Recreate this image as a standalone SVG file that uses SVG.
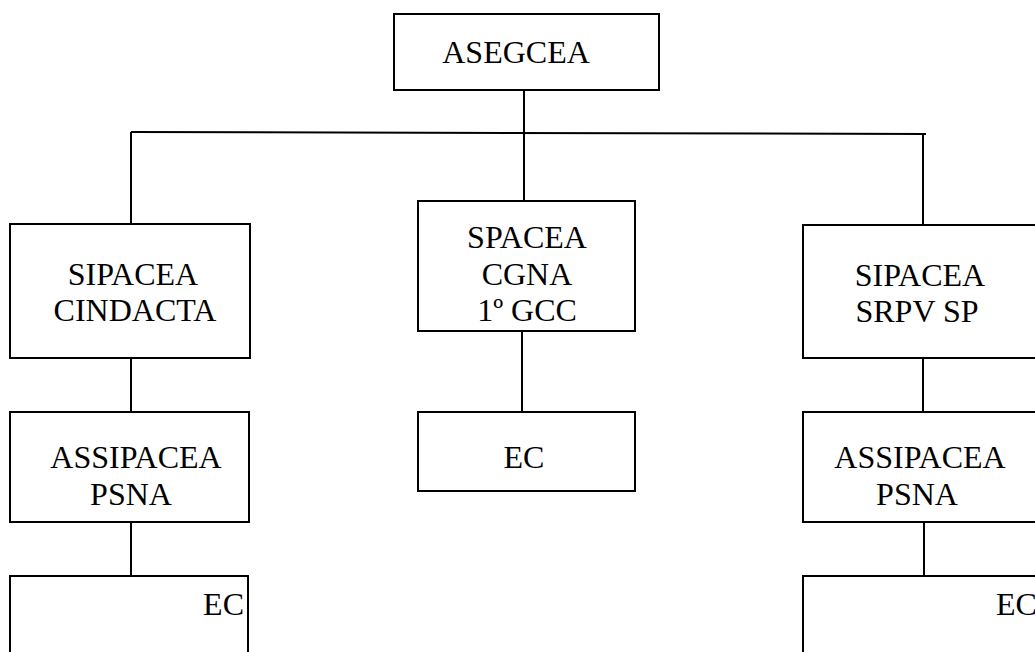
<svg xmlns="http://www.w3.org/2000/svg" width="1035" height="652" viewBox="0 0 1035 652">
<style>
.box{fill:#fff;stroke:#000;stroke-width:2}
.ln{fill:none;stroke:#000;stroke-width:2}
text{font-family:"Liberation Serif","Times New Roman",serif;font-size:32px;fill:#000}
</style>
<rect width="1035" height="652" fill="#fff"/>
<g id="connectors">
<line class="ln" x1="524" y1="90" x2="524" y2="201"/>
<line class="ln" x1="131" y1="132" x2="926" y2="134"/>
<line class="ln" x1="131" y1="132" x2="131" y2="224"/>
<line class="ln" x1="923" y1="134" x2="923" y2="225"/>
<line class="ln" x1="131" y1="358" x2="131" y2="412"/>
<line class="ln" x1="131" y1="522" x2="131" y2="576"/>
<line class="ln" x1="522" y1="331" x2="522" y2="412"/>
<line class="ln" x1="923" y1="358" x2="923" y2="412"/>
<line class="ln" x1="924" y1="522" x2="924" y2="576"/>
</g>
<g id="n-asegcea">
<rect class="box" x="394" y="14" width="265" height="76"/>
<text x="516" y="63" text-anchor="middle">ASEGCEA</text>
</g>
<g id="n-sipacea-cindacta">
<rect class="box" x="10" y="224" width="240" height="134"/>
<text x="133" y="285" text-anchor="middle">SIPACEA</text>
<text x="135" y="321" text-anchor="middle">CINDACTA</text>
</g>
<g id="n-spacea">
<rect class="box" x="418" y="201" width="217" height="130"/>
<text x="527" y="248" text-anchor="middle">SPACEA</text>
<text x="527" y="285" text-anchor="middle">CGNA</text>
<text x="527" y="321" text-anchor="middle">1º GCC</text>
</g>
<g id="n-sipacea-srpv">
<rect class="box" x="803" y="225" width="245" height="133"/>
<text x="920" y="286" text-anchor="middle">SIPACEA</text>
<text x="917" y="322" text-anchor="middle">SRPV SP</text>
</g>
<g id="n-assipacea-left">
<rect class="box" x="10" y="412" width="239" height="110"/>
<text x="136" y="468" text-anchor="middle">ASSIPACEA</text>
<text x="131" y="505" text-anchor="middle">PSNA</text>
</g>
<g id="n-ec-mid">
<rect class="box" x="418" y="412" width="217" height="79"/>
<text x="524" y="468" text-anchor="middle">EC</text>
</g>
<g id="n-assipacea-right">
<rect class="box" x="803" y="412" width="245" height="110"/>
<text x="920" y="468" text-anchor="middle">ASSIPACEA</text>
<text x="917" y="505" text-anchor="middle">PSNA</text>
</g>
<g id="n-ec-left">
<rect class="box" x="10" y="576" width="238" height="90"/>
<text x="244" y="615" text-anchor="end">EC</text>
</g>
<g id="n-ec-right">
<rect class="box" x="803" y="576" width="245" height="90"/>
<text x="996" y="615">EC</text>
</g>
</svg>
